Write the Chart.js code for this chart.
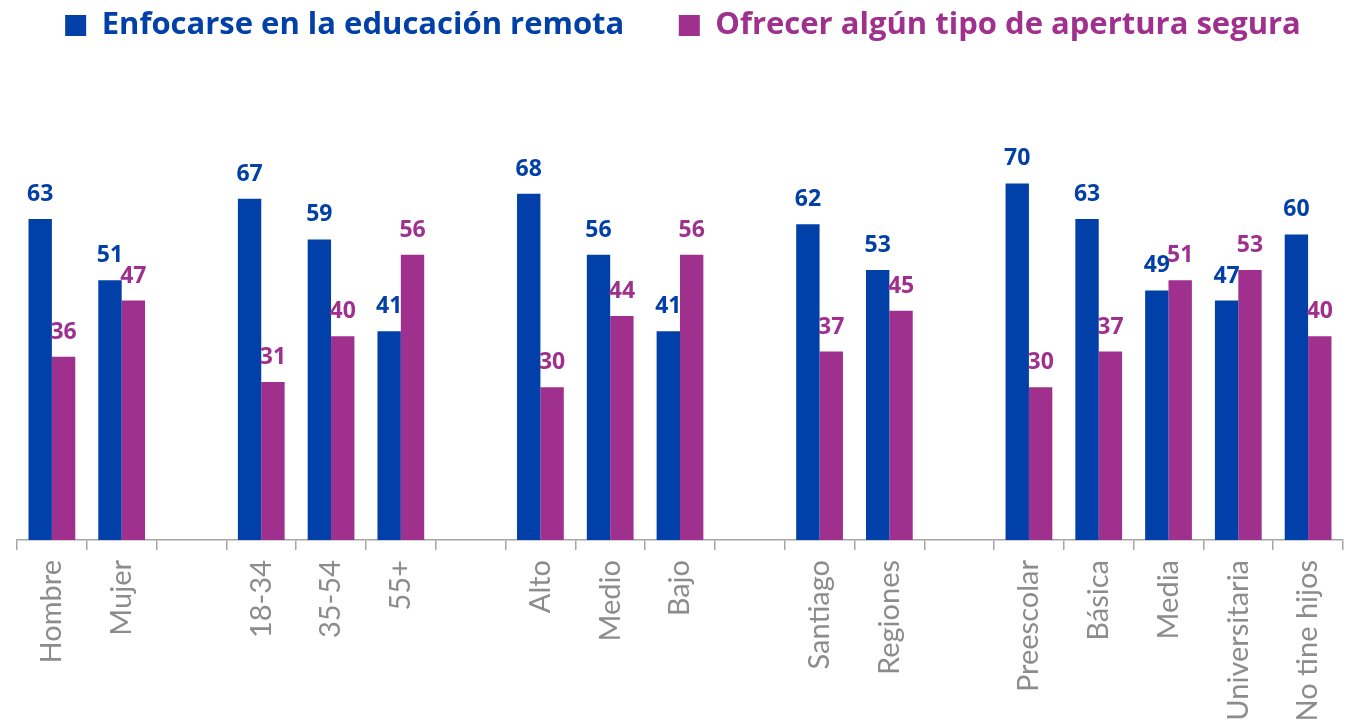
<!DOCTYPE html>
<html>
<head>
<meta charset="utf-8">
<script src="https://cdn.jsdelivr.net/npm/chart.js@4"></script>
<style>
  html, body { margin: 0; padding: 0; background: #fff; }
  #wrap { width: 1353px; height: 725px; }
</style>
</head>
<body>
<div id="wrap"><canvas id="chart"></canvas></div>
<script>
const categories = ['Hombre', 'Mujer', '', '18-34', '35-54', '55+', '', 'Alto', 'Medio', 'Bajo', '',
    'Santiago', 'Regiones', '', 'Preescolar', 'Básica', 'Media', 'Universitaria', 'No tine hijos'];
const remota = [63, 51, null, 67, 59, 41, null, 68, 56, 41, null, 62, 53, null, 70, 63, 49, 47, 60];
const apertura = [36, 47, null, 31, 40, 56, null, 30, 44, 56, null, 37, 45, null, 30, 37, 51, 53, 40];
const seriesNames = ['Enfocarse en la educación remota', 'Ofrecer algún tipo de apertura segura'];

const BLUE = '#0040a8';
const PURPLE = '#a0308e';

// etiquetas de valor encima de cada barra
const valueLabels = {
    id: 'valueLabels',
    afterDatasetsDraw(chart) {
        const ctx = chart.ctx;
        ctx.save();
        ctx.font = 'bold 23px "Open Sans"';
        ctx.textAlign = 'center';
        ctx.textBaseline = 'alphabetic';
        chart.data.datasets.forEach((ds, i) => {
            const meta = chart.getDatasetMeta(i);
            ctx.fillStyle = ds.backgroundColor;
            meta.data.forEach((bar, j) => {
                const v = ds.data[j];
                if (v == null) return;
                ctx.fillText(v, bar.x, bar.y - 18);
            });
        });
        ctx.restore();
    }
};

new Chart(document.getElementById('chart'), {
    type: 'bar',
    data: {
        labels: categories,
        datasets: [
            { label: seriesNames[0], data: remota, backgroundColor: BLUE,
              categoryPercentage: 0.67, barPercentage: 1 },
            { label: seriesNames[1], data: apertura, backgroundColor: PURPLE,
              categoryPercentage: 0.67, barPercentage: 1 }
        ]
    },
    options: {
        responsive: true,
        maintainAspectRatio: false,
        animation: false,
        layout: { padding: { left: 17, right: 4, top: 2, bottom: 0 } },
        plugins: {
            tooltip: { enabled: false },
            legend: {
                position: 'top',
                labels: {
                    font: { family: 'Open Sans', size: 31, weight: 'bold' },
                    boxWidth: 21,
                    boxHeight: 21,
                    padding: 8,
                    generateLabels(chart) {
                        // espacio extra tras la primera serie, como en el original
                        return chart.data.datasets.map((ds, i) => ({
                            text: i === 0 ? ds.label + '\u2003\u2002' : ds.label,
                            fillStyle: ds.backgroundColor,
                            strokeStyle: ds.backgroundColor,
                            lineWidth: 0,
                            fontColor: ds.backgroundColor,
                            datasetIndex: i
                        }));
                    }
                }
            }
        },
        scales: {
            x: {
                offset: true,
                grid: { offset: true, drawOnChartArea: false, drawTicks: true, tickLength: 10, color: '#a6a6a6', lineWidth: 1.5 },
                border: { color: '#a6a6a6', width: 1.5 },
                ticks: {
                    minRotation: 90, maxRotation: 90, autoSkip: false,
                    color: '#8c8c8c', padding: 10,
                    font: { family: 'Lato', size: 29 }
                },
                afterFit(scale) { scale.height = 185; }
            },
            y: {
                display: false,
                min: 0,
                max: 96
            }
        }
    },
    plugins: [valueLabels]
});
</script>
</body>
</html>
